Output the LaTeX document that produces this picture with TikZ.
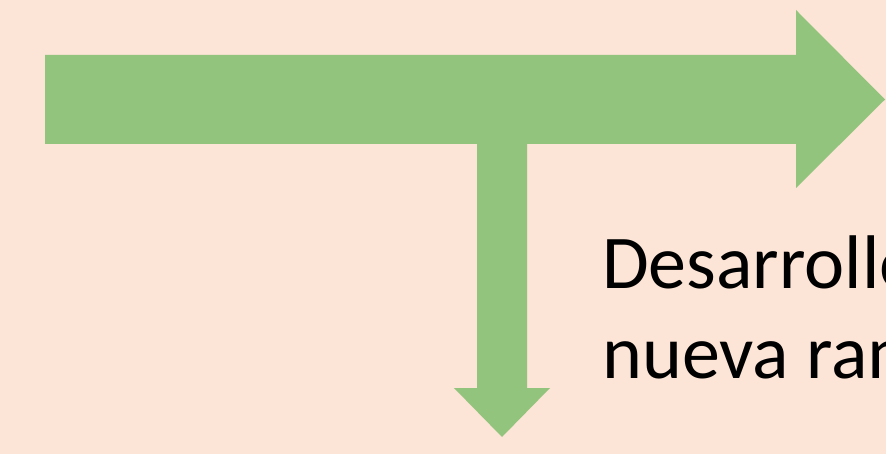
\documentclass[tikz,border=0pt]{standalone}
\usepackage{fontspec}
\setmainfont{Carlito}
\definecolor{bgpeach}{HTML}{FCE4D6}
\definecolor{arrowgreen}{HTML}{93C47D}
\tikzset{
  bigarrow/.style={fill=arrowgreen},
  label text/.style={anchor=base west, inner sep=0pt, text=black, font=\fontsize{76}{89}\selectfont}
}
\begin{document}
\begin{tikzpicture}[x=1pt,y=-1pt]
\useasboundingbox (0,0) rectangle (886,454);
\clip (0,0) rectangle (886,454);
\fill[bgpeach] (0,0) rectangle (886,454);
% main horizontal arrow
\fill[bigarrow] (45,55) -- (796,55) -- (796,10) -- (885,99.5) -- (796,188) -- (796,144) -- (45,144) -- cycle;
% branch arrow down
\fill[bigarrow] (477,140) -- (527,140) -- (527,388) -- (550,388) -- (502,437) -- (454,388) -- (477,388) -- cycle;
\node[label text] (l1) at (602,289) {Desarrollo de};
\node[label text] (l2) at (602,378) {nueva rama};
\end{tikzpicture}
\end{document}
